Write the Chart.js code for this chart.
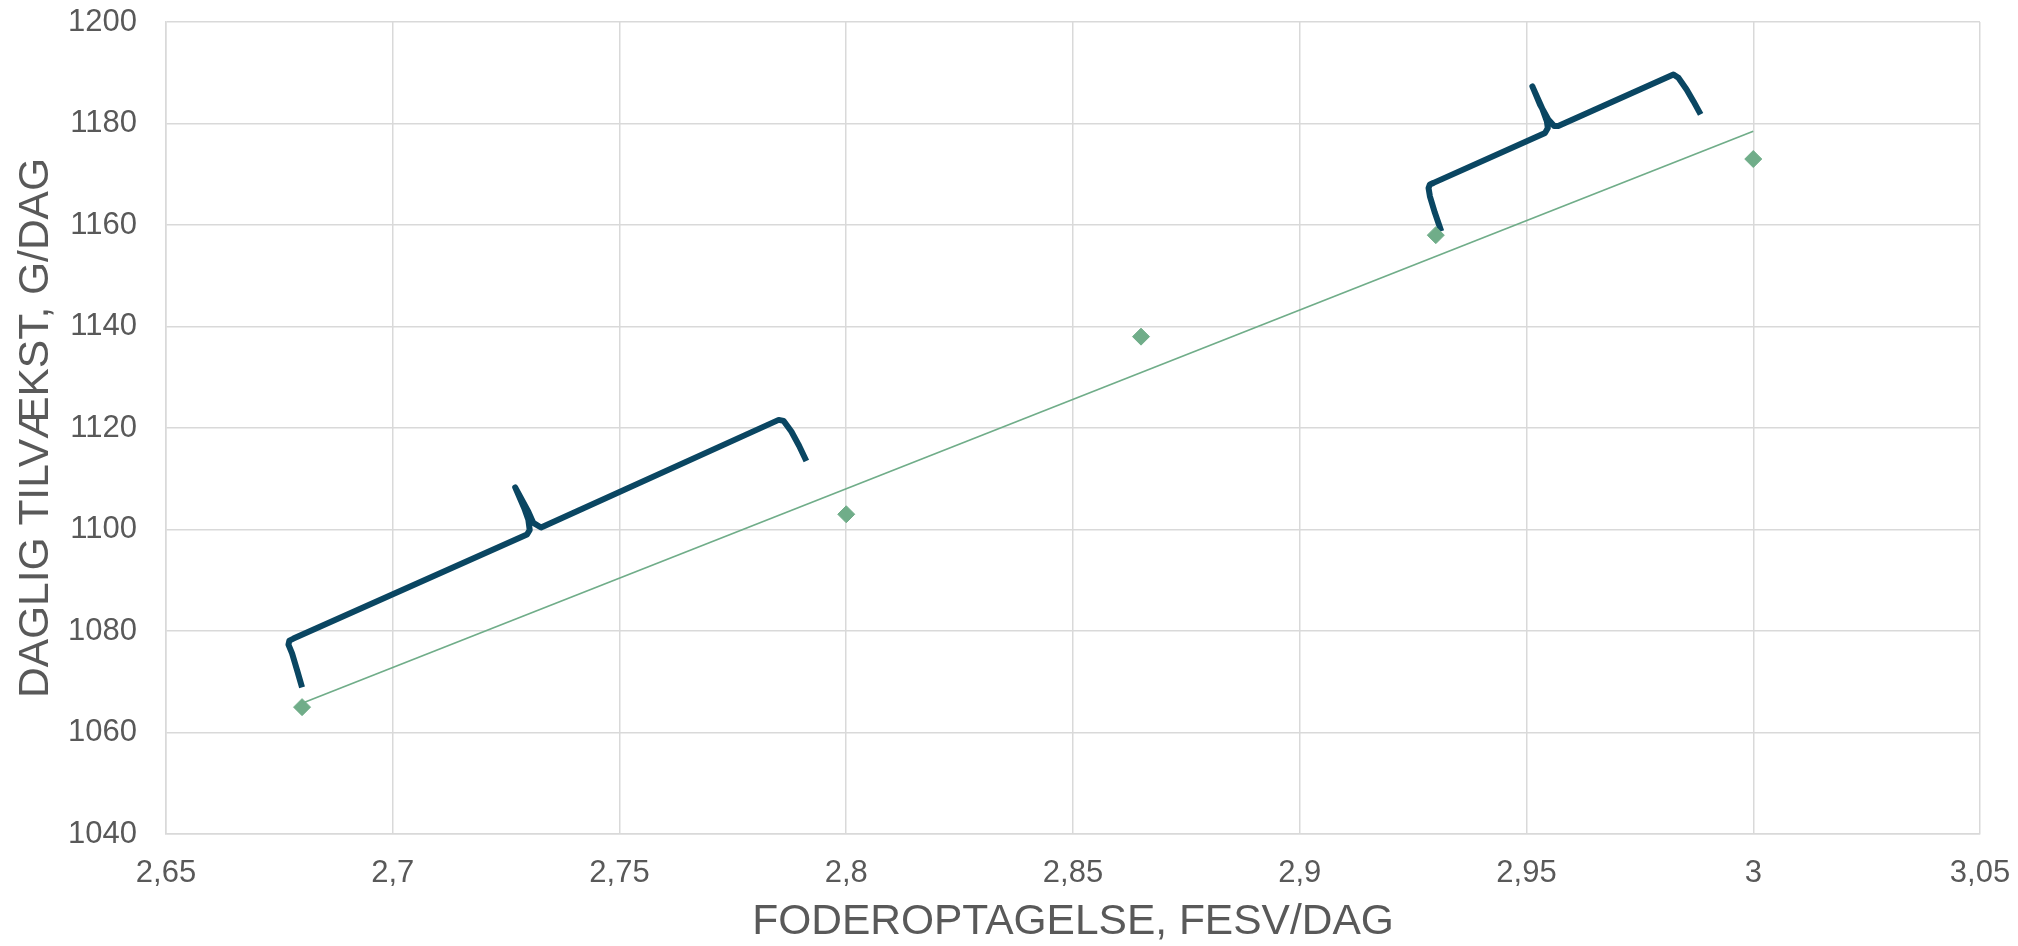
<!DOCTYPE html>
<html>
<head>
<meta charset="utf-8">
<script src="https://cdn.jsdelivr.net/npm/chart.js@4.4.1/dist/chart.umd.min.js"></script>
<style>
html,body{margin:0;padding:0;background:#ffffff;}
#wrap{width:2018px;height:946px;position:relative;}
</style>
</head>
<body>
<div id="wrap"><canvas id="c"></canvas></div>
<script>
// ---- data ----
const feedIntake = [2.68, 2.8, 2.865, 2.93, 3.0];          // FEsv/dag
const dailyGain  = [1065, 1103, 1138, 1158, 1173];          // g/dag

const xTickValues = [2.65, 2.7, 2.75, 2.8, 2.85, 2.9, 2.95, 3.0, 3.05];
const xTickLabels = ['2,65', '2,7', '2,75', '2,8', '2,85', '2,9', '2,95', '3', '3,05'];
const yTickValues = [1040, 1060, 1080, 1100, 1120, 1140, 1160, 1180, 1200];
const yTickLabels = ['1040', '1060', '1080', '1100', '1120', '1140', '1160', '1180', '1200'];

const xTitle = 'FODEROPTAGELSE, FESV/DAG';
const yTitle = 'DAGLIG TILVÆKST, G/DAG';

// curly-brace annotations, in data coordinates
const brace1X = [2.6800, 2.6789, 2.6778, 2.6770, 2.6772, 2.6781, 2.7296, 2.7302, 2.7299, 2.7290, 2.7270, 2.7299, 2.7310, 2.7327, 2.7851, 2.7862, 2.7879, 2.7896, 2.7912];
const brace1Y = [1068.9, 1072.3, 1075.6, 1077.3, 1078.1, 1078.5, 1099.0, 1099.9, 1101.9, 1104.2, 1108.3, 1103.5, 1101.3, 1100.4, 1121.6, 1121.4, 1119.3, 1116.5, 1113.5];
const brace2X = [2.9312, 2.9298, 2.9287, 2.9284, 2.9287, 2.9295, 2.9541, 2.9547, 2.9545, 2.9534, 2.9513, 2.9530, 2.9548, 2.9561, 2.9570, 2.9824, 2.9835, 2.9853, 2.9868, 2.9884];
const brace2Y = [1158.75, 1162.4, 1165.65, 1167.3, 1168.0, 1168.3, 1178.15, 1179.1, 1180.4, 1183.1, 1187.3, 1183.7, 1180.8, 1179.5, 1179.5, 1189.65, 1189.0, 1186.7, 1184.4, 1181.8];

// ---- derived ----
const zipXY = (xs, ys) => xs.map((x, i) => ({x: x, y: ys[i]}));
const scatterPts = zipXY(feedIntake, dailyGain);

// linear trendline (least squares) over the data range
const n = feedIntake.length;
const mx = feedIntake.reduce((a, b) => a + b, 0) / n;
const my = dailyGain.reduce((a, b) => a + b, 0) / n;
let sxy = 0, sxx = 0;
for (let i = 0; i < n; i++) { sxy += (feedIntake[i] - mx) * (dailyGain[i] - my); sxx += (feedIntake[i] - mx) ** 2; }
const slope = sxy / sxx, icpt = my - slope * mx;
const xMin = Math.min(...feedIntake), xMax = Math.max(...feedIntake);
const trendPts = [{x: xMin, y: icpt + slope * xMin}, {x: xMax, y: icpt + slope * xMax}];

const GREEN = 'rgb(112,173,137)';
const BRACE = '#0a4662';
const GRID = '#d9d9d9';
const TXT = '#595959';
const FONT = '"Liberation Sans", Arial, sans-serif';

const braceDs = (pts) => ({
  type: 'line', data: pts, showLine: true, borderColor: BRACE, borderWidth: 6,
  pointRadius: 0, tension: 0, borderJoinStyle: 'round', borderCapStyle: 'butt', fill: false
});

new Chart(document.getElementById('c'), {
  type: 'scatter',
  data: {
    datasets: [
      { data: scatterPts, pointStyle: 'rectRot', pointRadius: 8.5, backgroundColor: GREEN, borderColor: GREEN, borderWidth: 1, showLine: false },
      { type: 'line', data: trendPts, showLine: true, borderColor: GREEN, borderWidth: 1.75, pointRadius: 0, fill: false },
      braceDs(zipXY(brace1X, brace1Y)),
      braceDs(zipXY(brace2X, brace2Y))
    ]
  },
  options: {
    responsive: true,
    maintainAspectRatio: false,
    animation: false,
    layout: { padding: { top: 22, right: 38, bottom: 0, left: 0 } },
    plugins: { legend: { display: false }, tooltip: { enabled: false } },
    scales: {
      x: {
        type: 'linear', min: xTickValues[0], max: xTickValues[xTickValues.length - 1],
        afterBuildTicks: (s) => { s.ticks = xTickValues.map(v => ({value: v})); },
        afterFit: (s) => { s.height = 112; },
        grid: { color: GRID, lineWidth: 1.5, drawTicks: true, tickLength: 21, tickColor: 'rgba(0,0,0,0)' },
        border: { color: GRID, width: 1.5 },
        ticks: {
          padding: 0, color: TXT, font: { family: FONT, size: 31 }, maxRotation: 0, autoSkip: false,
          callback: (v) => { const i = xTickValues.findIndex(t => Math.abs(t - v) < 1e-9); return i >= 0 ? xTickLabels[i] : ''; }
        },
        title: { display: true, text: xTitle, color: TXT, font: { family: FONT, size: 42.5, lineHeight: 1 }, padding: { top: 0, bottom: 2 } }
      },
      y: {
        type: 'linear', min: yTickValues[0], max: yTickValues[yTickValues.length - 1],
        afterBuildTicks: (s) => { s.ticks = yTickValues.map(v => ({value: v})); },
        afterFit: (s) => { s.width = 166; },
        grid: { color: GRID, lineWidth: 1.5, drawTicks: true, tickLength: 29, tickColor: 'rgba(0,0,0,0)' },
        border: { color: GRID, width: 1.5 },
        ticks: {
          padding: 0, color: TXT, font: { family: FONT, size: 31 }, autoSkip: false,
          callback: (v) => { const i = yTickValues.indexOf(v); return i >= 0 ? yTickLabels[i] : ''; }
        },
        title: { display: true, text: yTitle, color: TXT, font: { family: FONT, size: 42.5, lineHeight: 1 }, padding: { top: 15, bottom: 0 } }
      }
    }
  }
});
</script>
</body>
</html>
